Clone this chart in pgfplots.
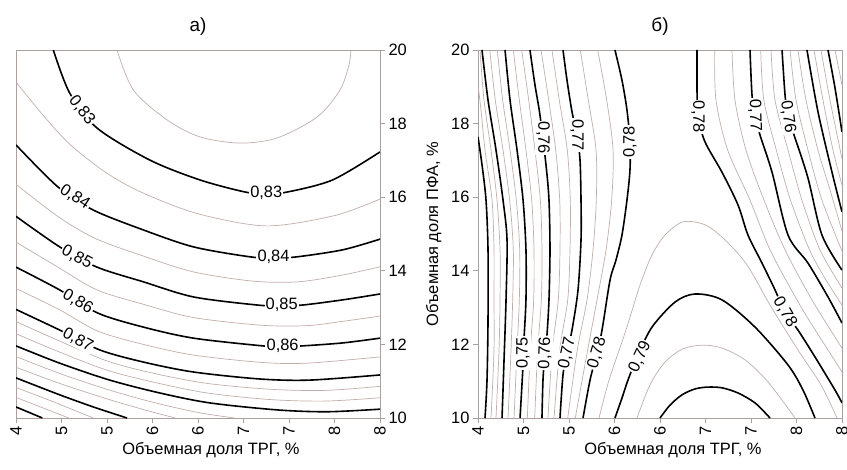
\documentclass[border=0pt]{standalone}
\usepackage{fontspec}
\setmainfont{Liberation Sans}
\usepackage{pgfplots}
\pgfplotsset{compat=1.18}

\definecolor{framec}{RGB}{172,160,158}
\definecolor{thinc}{RGB}{192,174,170}

\pgfplotsset{
  cont/.style={
    width=364bp, height=368bp, scale only axis,
    xmin=4, xmax=8, ymin=10, ymax=20,
    xtick={4,4.5,...,8}, xticklabels={4,5,5,6,6,7,7,8,8},
    ytick={10,12,...,20},
    xtick pos=left, xticklabel pos=left,
    tick align=outside, major tick length=5bp,
    axis line style={framec, line width=0.8bp},
    tick style={framec, line width=0.8bp},
    x tick label style={rotate=90, anchor=east},
    /pgf/number format/assume math mode=true,
    font=\fontsize{16.5}{19}\selectfont,
    title style={font=\fontsize{19}{22}\selectfont, yshift=5bp},
    xlabel={Объемная доля ТРГ, \%},
    xlabel style={xshift=13bp},
  },
  lo/.style={thinc, line width=0.7bp, smooth, no markers},
  hi/.style={black, line width=1.6bp, smooth, no markers},
}
\tikzset{lab/.style={fill=white, inner sep=1.2bp, font=\fontsize{16.5}{19}\selectfont}}

\begin{document}
\begin{tikzpicture}
\useasboundingbox (0,0) rectangle (847bp,470bp);

% a) ------------------------------------------------------------
\begin{axis}[cont, at={(16bp,52bp)}, anchor=south west,
  ytick pos=right, yticklabel pos=right, title={а)}]
% thin levels
\addplot[lo] coordinates {(5.11,20) (5.29,18.91) (5.66,18.10) (6.02,17.64) (6.46,17.47) (6.87,17.61) (7.31,18.18) (7.56,18.91) (7.66,19.6) (7.68,20)};
\addplot[lo] coordinates {(4.0,19.13) (4.3,18.22) (4.6,17.42) (5.0,16.65) (5.4,16.11) (6.0,15.55) (6.75,15.22) (7.5,15.5) (8.0,15.95)};
\addplot[lo] coordinates {(4.0,16.35) (4.47,15.46) (4.87,14.88) (5.4,14.40) (5.95,13.97) (6.6,13.72) (7.1,13.70) (7.6,13.89) (8.0,14.11)};
\addplot[lo] coordinates {(4.0,14.78) (4.48,14.07) (4.89,13.48) (5.4,13.09) (5.95,12.73) (6.7,12.52) (7.2,12.51) (7.6,12.63) (8.0,12.77)};
\addplot[lo] coordinates {(4.0,13.52) (4.48,12.94) (4.9,12.36) (5.4,12.0) (5.95,11.71) (6.7,11.51) (7.2,11.49) (8.0,11.66)};
\addplot[lo] coordinates {(4.0,12.62) (4.48,12.09) (5.0,11.55) (5.5,11.22) (6.1,10.94) (6.8,10.78) (7.4,10.75) (8.0,10.86)};
\addplot[lo] coordinates {(4.0,12.29) (4.48,11.79) (5.0,11.30) (5.5,10.98) (6.1,10.68) (6.8,10.50) (7.4,10.46) (8.0,10.55)};
\addplot[lo] coordinates {(4.0,11.67) (4.48,11.21) (5.0,10.78) (5.5,10.43) (6.0,10.15) (6.4,10.0)};
\addplot[lo] coordinates {(4.0,11.38) (4.48,10.94) (5.0,10.52) (5.4,10.23) (5.75,10.0)};
\addplot[lo] coordinates {(4.0,10.83) (4.4,10.45) (4.85,10.0)};
\addplot[lo] coordinates {(4.0,10.56) (4.3,10.27) (4.58,10.0)};
% labelled levels
\addplot[hi] coordinates {(4.41,20.0) (4.59,18.83) (4.89,17.88) (5.47,17.01) (6.02,16.47) (6.52,16.14) (6.75,16.10) (6.98,16.14) (7.48,16.47) (8.0,17.23)};
\addplot[hi] coordinates {(4.0,17.42) (4.46,16.28) (4.85,15.65) (5.40,15.11) (5.95,14.65) (6.57,14.38) (6.83,14.35) (7.09,14.38) (7.59,14.57) (8.0,14.86)};
\addplot[hi] coordinates {(4.0,15.48) (4.48,14.65) (4.89,14.10) (5.40,13.70) (5.95,13.29) (6.65,13.07) (6.9,13.05) (7.15,13.07) (7.59,13.21) (8.0,13.37)};
\addplot[hi] coordinates {(4.0,14.10) (4.48,13.48) (4.90,12.85) (5.40,12.47) (5.95,12.17) (6.71,11.96) (6.93,11.94) (7.15,11.96) (7.59,12.04) (8.0,12.17)};
\addplot[hi] coordinates {(4.0,12.95) (4.48,12.39) (4.92,11.85) (5.40,11.52) (5.95,11.25) (6.68,11.06) (7.23,11.03) (8.0,11.17)};
\addplot[hi] coordinates {(4.0,11.96) (4.48,11.49) (5.03,11.03) (5.58,10.68) (6.13,10.41) (6.87,10.22) (7.42,10.17) (8.0,10.24)};
\addplot[hi] coordinates {(4.0,11.09) (4.48,10.63) (4.85,10.30) (5.22,10.0)};
\addplot[hi] coordinates {(4.0,10.30) (4.29,10.0)};
\node[lab, rotate=-52] at (axis cs:4.725,18.37) {0,83};
\node[lab] at (axis cs:6.75,16.12) {0,83};
\node[lab, rotate=-33] at (axis cs:4.648,16.0) {0,84};
\node[lab] at (axis cs:6.83,14.37) {0,84};
\node[lab, rotate=-28] at (axis cs:4.67,14.37) {0,85};
\node[lab] at (axis cs:6.92,13.07) {0,85};
\node[lab, rotate=-30] at (axis cs:4.68,13.16) {0,86};
\node[lab] at (axis cs:6.93,11.96) {0,86};
\node[lab, rotate=-28] at (axis cs:4.68,12.12) {0,87};
\end{axis}

% b) ------------------------------------------------------------
\begin{axis}[cont, at={(478bp,52bp)}, anchor=south west,
  ytick pos=left, yticklabel pos=left, title={б)},
  ylabel={Объемная доля ПФА, \%}, ylabel shift=3bp]
% thin levels, left group
\addplot[lo] coordinates {(4.0,19.05) (4.033,18.37) (4.077,17.28) (4.154,15.92) (4.176,14.57) (4.176,13.21) (4.176,11.85) (4.143,10.0)};
\addplot[lo] coordinates {(4.022,20) (4.066,18.64) (4.143,17.28) (4.209,15.92) (4.242,14.57) (4.242,13.21) (4.231,11.85) (4.198,10.0)};
\addplot[lo] coordinates {(4.129,20) (4.190,18.64) (4.275,17.28) (4.348,15.92) (4.388,14.57) (4.381,13.21) (4.363,11.85) (4.330,10.0)};
\addplot[lo] coordinates {(4.212,20) (4.271,18.64) (4.352,17.28) (4.421,15.92) (4.458,14.57) (4.454,13.21) (4.429,11.85) (4.396,10.0)};
\addplot[lo] coordinates {(4.388,20) (4.454,18.64) (4.527,17.28) (4.590,15.92) (4.615,14.57) (4.612,13.21) (4.575,11.85) (4.542,10.0)};
\addplot[lo] coordinates {(4.480,20) (4.557,18.64) (4.626,17.28) (4.685,15.92) (4.703,14.57) (4.696,13.21) (4.656,11.85) (4.623,10.0)};
\addplot[lo] coordinates {(4.692,20) (4.777,18.64) (4.854,17.28) (4.898,15.92) (4.901,14.57) (4.882,13.21) (4.816,11.85) (4.769,10.0)};
\addplot[lo] coordinates {(4.813,20) (4.893,18.64) (4.981,17.28) (5.014,15.92) (5.011,14.57) (4.986,13.21) (4.898,11.85) (4.835,10.0)};
\addplot[lo] coordinates {(5.124,20) (5.212,18.64) (5.297,17.28) (5.300,15.92) (5.264,14.57) (5.198,13.21) (5.091,11.85) (4.986,10.0)};
\addplot[lo] coordinates {(5.315,20) (5.414,18.64) (5.484,17.28) (5.469,15.92) (5.407,14.57) (5.308,13.21) (5.205,11.85) (5.069,10.0)};
% thin levels, centre
\addplot[lo] coordinates {(5.330,10.0) (5.440,11.03) (5.626,12.39) (5.780,13.61) (5.912,14.43) (6.055,14.97) (6.253,15.33) (6.495,15.25) (6.714,14.84) (6.956,14.16) (7.209,13.07) (7.516,11.85) (7.769,10.90) (7.945,10.0)};
\addplot[lo] coordinates {(5.747,10.0) (5.890,10.90) (6.055,11.52) (6.253,11.88) (6.473,11.98) (6.681,11.90) (6.934,11.58) (7.187,10.98) (7.484,10.0)};
% thin levels, right group
\addplot[lo] coordinates {(6.601,20) (6.615,18.64) (6.744,17.28) (6.989,15.92) (7.209,14.57) (7.505,13.21) (7.670,12.53) (7.846,11.85) (8.0,11.25)};
\addplot[lo] coordinates {(6.791,20) (6.824,18.64) (6.945,17.28) (7.143,15.92) (7.374,14.57) (7.670,13.21) (8.0,11.90)};
\addplot[lo] coordinates {(7.107,20) (7.141,18.64) (7.278,17.28) (7.434,15.92) (7.643,14.57) (7.824,13.75) (8.0,13.07)};
\addplot[lo] coordinates {(7.220,20) (7.264,18.64) (7.407,17.28) (7.560,15.92) (7.758,14.57) (8.0,13.53)};
\addplot[lo] coordinates {(7.429,20) (7.495,18.64) (7.626,17.28) (7.780,15.92) (8.0,14.54)};
\addplot[lo] coordinates {(7.516,20) (7.604,18.64) (7.736,17.28) (7.868,16.20) (8.0,15.08)};
\addplot[lo] coordinates {(7.692,20) (7.791,18.64) (7.901,17.28) (8.0,16.33)};
\addplot[lo] coordinates {(7.769,20) (7.868,18.64) (8.0,17.04)};
\addplot[lo] coordinates {(7.923,20) (8.0,19.05)};
% labelled levels
\addplot[hi] coordinates {(4.0,17.64) (4.044,16.88) (4.088,15.92) (4.11,14.57) (4.11,12.66) (4.099,11.03) (4.077,10.0)};
\addplot[hi] coordinates {(4.044,20) (4.11,18.64) (4.198,17.28) (4.275,15.92) (4.319,14.84) (4.308,13.21) (4.286,11.57) (4.264,10.0)};
\addplot[hi] coordinates {(4.297,20) (4.352,18.64) (4.429,17.28) (4.495,15.92) (4.527,14.57) (4.527,13.21) (4.505,12.12) (4.495,11.44) (4.462,10.0)};
\addplot[hi] coordinates {(4.571,20) (4.626,19.05) (4.681,18.23) (4.747,16.88) (4.780,15.92) (4.791,14.57) (4.780,13.21) (4.758,12.26) (4.736,11.77) (4.714,11.03) (4.703,10.0)};
\addplot[hi] coordinates {(4.934,20) (4.978,19.18) (5.033,18.32) (5.088,17.69) (5.121,17.01) (5.132,15.92) (5.132,14.84) (5.099,13.48) (5.033,12.39) (4.978,11.77) (4.934,11.17) (4.901,10.0)};
\addplot[hi] coordinates {(5.505,20) (5.582,19.18) (5.637,18.37) (5.670,17.50) (5.670,16.74) (5.637,15.92) (5.582,14.97) (5.516,14.29) (5.451,13.75) (5.363,12.39) (5.308,11.77) (5.231,11.03) (5.154,10.0)};
\addplot[hi] coordinates {(5.505,10.0) (5.582,10.54) (5.648,11.03) (5.758,11.71) (5.912,12.47) (6.165,13.15) (6.385,13.37) (6.681,13.21) (7.044,12.47) (7.407,11.44) (7.571,10.76) (7.703,10.0)};
\addplot[hi] coordinates {(6.0,10.0) (6.110,10.35) (6.242,10.63) (6.385,10.79) (6.527,10.84) (6.681,10.82) (6.857,10.68) (7.044,10.41) (7.209,10.0)};
\addplot[hi] coordinates {(6.407,20) (6.407,18.86) (6.418,18.18) (6.495,17.50) (6.681,16.68) (6.857,15.79) (6.967,14.97) (7.121,14.21) (7.264,13.48) (7.374,12.88) (7.516,12.39) (7.703,11.66) (7.923,10.76) (8.0,10.41)};
\addplot[hi] coordinates {(6.989,20) (7.011,18.78) (7.044,18.23) (7.099,17.69) (7.231,16.68) (7.407,14.97) (7.626,14.21) (7.846,13.29) (8.0,12.58)};
\addplot[hi] coordinates {(7.341,20) (7.374,18.78) (7.407,18.18) (7.484,17.61) (7.626,16.52) (7.780,14.97) (8.0,14.02)};
\addplot[hi] coordinates {(7.615,20) (7.736,18.32) (7.890,16.68) (8.0,15.60)};
\addplot[hi] coordinates {(7.846,20) (7.923,18.97) (8.0,17.77)};
\node[lab, rotate=-90] at (axis cs:4.714,17.61) {0,76};
\node[lab, rotate=-90] at (axis cs:5.088,17.69) {0,77};
\node[lab, rotate=90] at (axis cs:5.670,17.50) {0,78};
\node[lab, rotate=90] at (axis cs:4.495,11.77) {0,75};
\node[lab, rotate=88] at (axis cs:4.736,11.77) {0,76};
\node[lab, rotate=78] at (axis cs:4.978,11.77) {0,77};
\node[lab, rotate=74] at (axis cs:5.308,11.77) {0,78};
\node[lab, rotate=65] at (axis cs:5.780,11.66) {0,79};
\node[lab, rotate=-90] at (axis cs:6.418,18.18) {0,78};
\node[lab, rotate=-88] at (axis cs:7.044,18.23) {0,77};
\node[lab, rotate=-82] at (axis cs:7.407,18.18) {0,76};
\node[lab, rotate=-60] at (axis cs:7.374,12.88) {0,78};
\end{axis}
\end{tikzpicture}
\end{document}
